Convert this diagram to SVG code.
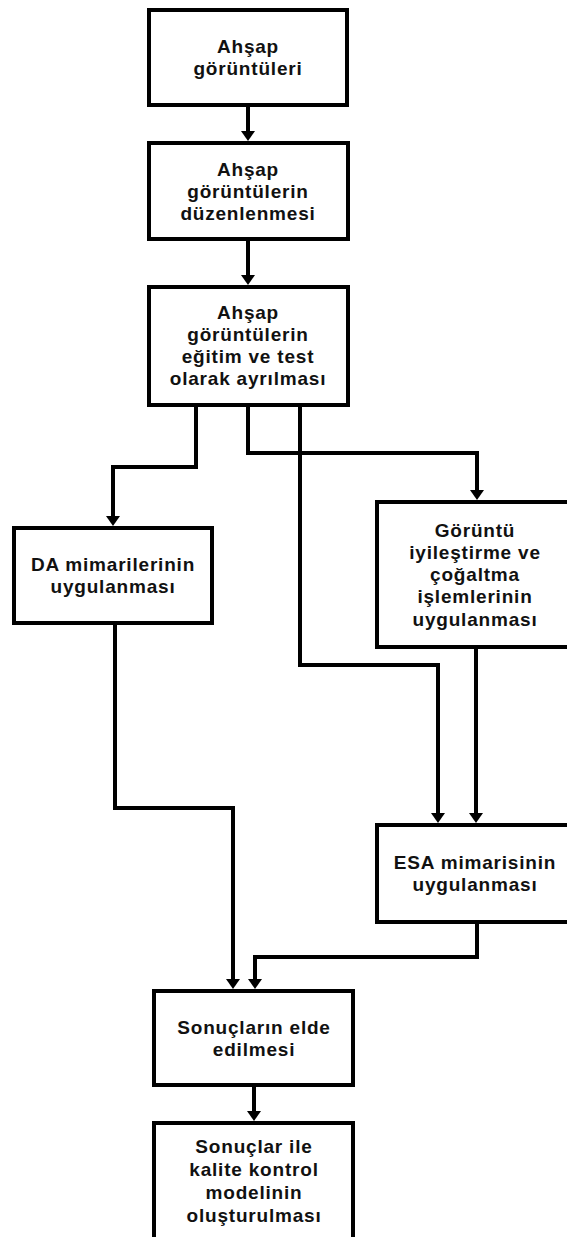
<svg xmlns="http://www.w3.org/2000/svg" width="567" height="1237" viewBox="0 0 567 1237">
<style>
.box{fill:#fff;stroke:#000;stroke-width:4}
.t{font-family:"Liberation Sans",Arial,sans-serif;font-weight:bold;font-size:19px;letter-spacing:0.8px;fill:#111;text-anchor:middle}
.c{fill:none;stroke:#000;stroke-width:4;stroke-linejoin:miter;marker-end:url(#ah)}
</style>
<defs>
<marker id="ah" markerUnits="userSpaceOnUse" markerWidth="16" markerHeight="16" refX="5" refY="7" orient="auto" overflow="visible">
<path d="M0,0 L10,7 L0,14 Z" fill="#000"/>
</marker>
</defs>
<rect width="567" height="1237" fill="#fff"/>
<g id="n1"><rect class="box" x="149" y="10" width="198" height="95"/>
<text class="t" x="248" y="53">Ahşap</text><text class="t" x="248" y="75">görüntüleri</text></g>
<g id="n2"><rect class="box" x="149" y="143" width="199" height="96"/>
<text class="t" x="248" y="176">Ahşap</text><text class="t" x="248" y="198">görüntülerin</text><text class="t" x="248" y="220">düzenlenmesi</text></g>
<g id="n3"><rect class="box" x="149" y="287" width="199" height="118"/>
<text class="t" x="248" y="319">Ahşap</text><text class="t" x="248" y="341">görüntülerin</text><text class="t" x="248" y="363">eğitim ve test</text><text class="t" x="248" y="385">olarak ayrılması</text></g>
<g id="n4"><rect class="box" x="14" y="528" width="198" height="95"/>
<text class="t" x="113" y="571">DA mimarilerinin</text><text class="t" x="113" y="593">uygulanması</text></g>
<g id="n5"><rect class="box" x="377" y="502" width="196" height="145"/>
<text class="t" x="475" y="537">Görüntü</text><text class="t" x="475" y="559">iyileştirme ve</text><text class="t" x="475" y="581">çoğaltma</text><text class="t" x="475" y="603">işlemlerinin</text><text class="t" x="475" y="626">uygulanması</text></g>
<g id="n6"><rect class="box" x="377" y="825" width="196" height="97"/>
<text class="t" x="475" y="869">ESA mimarisinin</text><text class="t" x="475" y="891">uygulanması</text></g>
<g id="n7"><rect class="box" x="154" y="991" width="199" height="94"/>
<text class="t" x="254" y="1034">Sonuçların elde</text><text class="t" x="254" y="1056">edilmesi</text></g>
<g id="n8"><rect class="box" x="154" y="1123" width="199" height="120"/>
<text class="t" x="254" y="1153">Sonuçlar ile</text><text class="t" x="254" y="1176">kalite kontrol</text><text class="t" x="254" y="1199">modelinin</text><text class="t" x="254" y="1222">oluşturulması</text></g>
<g id="connectors">
<path class="c" d="M248,105 V136"/>
<path class="c" d="M248,239 V280"/>
<path class="c" d="M196,405 V467 H113 V521"/>
<path class="c" d="M248,405 V453 H477 V495"/>
<path class="c" d="M300,405 V665 H438 V818"/>
<path class="c" d="M476,647 V818"/>
<path class="c" d="M115,623 V808 H233 V984"/>
<path class="c" d="M477,922 V957 H255 V984"/>
<path class="c" d="M254,1085 V1116"/>
</g>
</svg>
